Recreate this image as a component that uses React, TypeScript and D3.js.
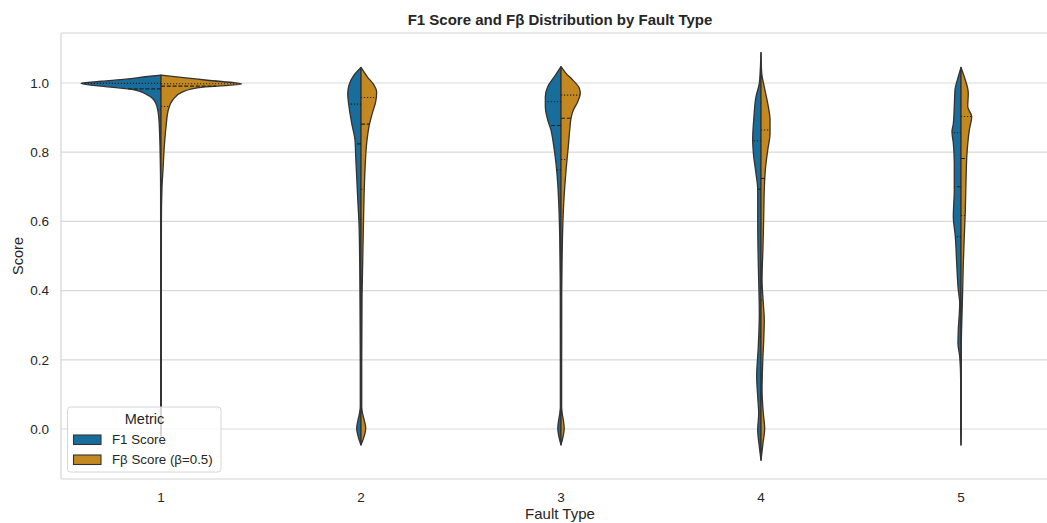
import React from 'react';
import * as d3 from 'd3';

const faultTypes = ['1', '2', '3', '4', '5'];
const metrics = ['F1 Score', 'Fβ Score (β=0.5)'];
const yTicks = [0, 0.2, 0.4, 0.6, 0.8, 1.0];

// half-violin outlines: [score, relative density]
const f1Profiles: [number, number][][] = [
  [[1.023, 0], [1.018, 0.2], [1.011, 0.44], [1.005, 0.74], [0.999, 1.0], [0.982, 0.375], [0.965, 0.166], [0.941, 0.063], [0.903, 0.029], [0.845, 0.016], [0.777, 0.009], [0.7, 0.005], [0.5, 0.004], [0.2, 0.004], [0.0, 0.004], [-0.02, 0]],
  [[1.045, 0], [1.023, 0.088], [0.994, 0.15], [0.97, 0.166], [0.932, 0.15], [0.883, 0.116], [0.835, 0.075], [0.787, 0.066], [0.729, 0.054], [0.652, 0.038], [0.594, 0.025], [0.479, 0.016], [0.382, 0.013], [0.19, 0.009], [0.064, 0.009], [0.045, 0.019], [0.025, 0.038], [0.002, 0.054], [-0.046, 0]],
  [[1.047, 0], [1.018, 0.084], [0.989, 0.166], [0.96, 0.196], [0.932, 0.196], [0.893, 0.166], [0.864, 0.125], [0.826, 0.096], [0.768, 0.063], [0.71, 0.041], [0.633, 0.025], [0.556, 0.016], [0.382, 0.009], [0.19, 0.008], [0.064, 0.008], [0.045, 0.015], [0.025, 0.03], [0.002, 0.04], [-0.046, 0]],
  [[1.088, 0], [1.038, 0.009], [0.999, 0.021], [0.96, 0.063], [0.903, 0.088], [0.835, 0.104], [0.787, 0.091], [0.739, 0.063], [0.691, 0.041], [0.614, 0.041], [0.527, 0.038], [0.431, 0.029], [0.334, 0.021], [0.238, 0.034], [0.151, 0.054], [0.093, 0.041], [0.045, 0.029], [-0.003, 0.041], [-0.051, 0.021], [-0.09, 0]],
  [[1.045, 0], [1.018, 0.034], [0.98, 0.075], [0.932, 0.084], [0.883, 0.096], [0.859, 0.113], [0.826, 0.096], [0.768, 0.084], [0.691, 0.084], [0.614, 0.096], [0.556, 0.071], [0.479, 0.054], [0.402, 0.034], [0.363, 0.016], [0.286, 0.034], [0.248, 0.038], [0.209, 0.016], [0.142, 0.004], [0.0, 0.004], [-0.046, 0]],
];

const fbProfiles: [number, number][][] = [
  [[1.023, 0], [1.015, 0.31], [1.008, 0.58], [0.997, 1.008], [0.988, 0.525], [0.975, 0.275], [0.951, 0.146], [0.922, 0.091], [0.874, 0.063], [0.816, 0.041], [0.749, 0.025], [0.7, 0.0125], [0.6, 0.005], [0.3, 0.004], [0.0, 0.004], [-0.02, 0]],
  [[1.045, 0], [1.018, 0.079], [0.994, 0.163], [0.975, 0.196], [0.946, 0.184], [0.912, 0.141], [0.874, 0.1], [0.826, 0.071], [0.749, 0.05], [0.671, 0.038], [0.575, 0.029], [0.479, 0.021], [0.382, 0.013], [0.19, 0.009], [0.064, 0.009], [0.045, 0.019], [0.025, 0.041], [0.002, 0.059], [-0.046, 0]],
  [[1.047, 0], [1.028, 0.063], [1.009, 0.146], [0.985, 0.229], [0.97, 0.241], [0.946, 0.209], [0.917, 0.146], [0.898, 0.125], [0.864, 0.109], [0.816, 0.091], [0.768, 0.071], [0.71, 0.05], [0.652, 0.034], [0.575, 0.021], [0.479, 0.013], [0.382, 0.009], [0.19, 0.008], [0.064, 0.008], [0.045, 0.015], [0.025, 0.03], [0.002, 0.04], [-0.046, 0]],
  [[1.088, 0], [1.028, 0.009], [0.989, 0.041], [0.941, 0.084], [0.893, 0.113], [0.855, 0.113], [0.806, 0.084], [0.749, 0.054], [0.691, 0.041], [0.614, 0.034], [0.527, 0.025], [0.431, 0.013], [0.363, 0.029], [0.315, 0.041], [0.257, 0.034], [0.19, 0.021], [0.113, 0.013], [0.045, 0.029], [0.002, 0.046], [-0.041, 0.025], [-0.09, 0]],
  [[1.045, 0], [1.018, 0.041], [0.97, 0.091], [0.932, 0.084], [0.903, 0.134], [0.864, 0.104], [0.797, 0.075], [0.72, 0.063], [0.633, 0.054], [0.556, 0.041], [0.479, 0.029], [0.402, 0.021], [0.334, 0.013], [0.238, 0.004], [0.0, 0.004], [-0.046, 0]],
];

// [Q1, median, Q3]
const f1Quartiles = [
  [0.924, 0.983, 0.999],
  [0.606, 0.824, 0.939],
  [0.749, 0.877, 0.946],
  [0.268, 0.693, 0.833],
  [0.556, 0.7, 0.856],
];
const fbQuartiles = [
  [0.932, 0.991, 0.998],
  [0.693, 0.881, 0.958],
  [0.779, 0.898, 0.965],
  [0.373, 0.724, 0.864],
  [0.617, 0.782, 0.903],
];

const colors = ['#176e9c', '#c38820'];
const lineColor = '#333333';
const textColor = '#262626';
const font = '"Liberation Sans", Arial, sans-serif';

const W = 1047;
const H = 523;
const left = 61;
const top = 33;
const bottom = 479;

// linear read of the outline at a given score
function densityAt(profile: [number, number][], v: number) {
  for (let i = 0; i < profile.length - 1; i++) {
    const [a, wa] = profile[i];
    const [b, wb] = profile[i + 1];
    if (v <= a && v >= b) return a === b ? wa : wa + (wb - wa) * (a - v) / (a - b);
  }
  return 0;
}

export default function App() {
  const x = d3.scaleBand().domain(faultTypes).range([left, left + 1000]);
  const y = d3.scaleLinear().domain([-0.1445, 1.1445]).range([bottom, top]);
  const w = d3.scaleLinear().domain([0, 1]).range([0, x.bandwidth() * 0.4]);
  const center = (c: string) => (x(c) ?? 0) + x.bandwidth() / 2;

  const half = (c: string, side: number) =>
    d3.area<[number, number]>()
      .y(d => y(d[0]))
      .x0(() => center(c))
      .x1(d => center(c) + side * w(d[1]))
      .curve(d3.curveMonotoneY);

  const allProfiles = [f1Profiles, fbProfiles];
  const allQuartiles = [f1Quartiles, fbQuartiles];

  return (
    <svg width={W} height={H} style={{ position: 'absolute', left: 0, top: 0, background: '#fff' }}
      fontFamily={font}>
      <rect x={0} y={0} width={W} height={H} fill="#fff" />
      {/* grid */}
      {yTicks.map(t => (
        <line key={t} x1={left} x2={W} y1={y(t)} y2={y(t)} stroke="#d9d9d9" strokeWidth={1.2} />
      ))}
      {/* frame */}
      <line x1={left} x2={W} y1={top} y2={top} stroke="#d3d3d3" strokeWidth={1.2} />
      <line x1={left} x2={W} y1={bottom} y2={bottom} stroke="#d3d3d3" strokeWidth={1.2} />
      <line x1={left} x2={left} y1={top} y2={bottom} stroke="#d3d3d3" strokeWidth={1.2} />

      {/* violins */}
      {faultTypes.map((c, i) => (
        <g key={c}>
          {allProfiles.map((profs, m) => {
            const side = m === 0 ? -1 : 1;
            const data = [...profs[i]].sort((a, b) => a[0] - b[0]);
            return (
              <path key={m} d={half(c, side)(data) ?? ''} fill={colors[m]}
                stroke={lineColor} strokeWidth={1.3} strokeLinejoin="round" />
            );
          })}
          {allQuartiles.map((qs, m) => {
            const side = m === 0 ? -1 : 1;
            return qs[i].map((q, k) => (
              <line key={`${m}-${k}`} x1={center(c)} x2={center(c) + side * w(densityAt(allProfiles[m][i], q))}
                y1={y(q)} y2={y(q)} stroke="#222" strokeWidth={1.1}
                strokeDasharray={k === 1 ? '4,1.8' : '1.2,1.8'} />
            ));
          })}
        </g>
      ))}

      {/* y ticks */}
      {yTicks.map(t => (
        <text key={t} x={49} y={y(t)} dy="0.35em" textAnchor="end" fontSize={13.5} fill={textColor}>
          {t.toFixed(1)}
        </text>
      ))}
      {/* x ticks */}
      {faultTypes.map(c => (
        <text key={c} x={center(c)} y={502} textAnchor="middle" fontSize={13.5} fill={textColor}>{c}</text>
      ))}

      <text x={560} y={519} textAnchor="middle" fontSize={15} fill={textColor}>Fault Type</text>
      <text transform={`translate(22.5,${(top + bottom) / 2}) rotate(-90)`} textAnchor="middle" fontSize={14.5}
        fill={textColor}>Score</text>
      <text x={560} y={24.5} textAnchor="middle" fontSize={15} fontWeight="bold" fill={textColor}>
        F1 Score and Fβ Distribution by Fault Type
      </text>

      {/* legend */}
      <g>
        <rect x={67.5} y={407} width={153.5} height={65} rx={3} fill="#fff" fillOpacity={0.8}
          stroke="#d6d6d6" strokeWidth={1} />
        <text x={144.5} y={424} textAnchor="middle" fontSize={14.5} fill={textColor}>Metric</text>
        {metrics.map((m, k) => (
          <g key={m}>
            <rect x={73.5} y={435 + k * 20} width={27.5} height={9.5} fill={colors[k]} stroke={lineColor}
              strokeWidth={1.1} />
            <text x={112} y={444 + k * 20} fontSize={13.3} fill={textColor}>{m}</text>
          </g>
        ))}
      </g>
    </svg>
  );
}
